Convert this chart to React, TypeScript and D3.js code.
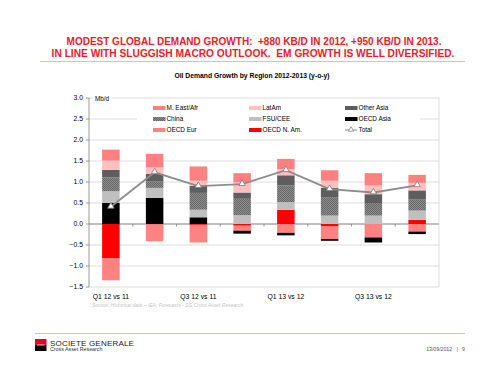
import React from "react";
import * as d3 from "d3";

const categories = ["Q1 12 vs 11", "Q2 12 vs 11", "Q3 12 vs 11", "Q4 12 vs 11", "Q1 13 vs 12", "Q2 13 vs 12", "Q3 13 vs 12", "Q4 13 vs 12"];
const tickLabels = ["Q1 12 vs 11", "", "Q3 12 vs 11", "", "Q1 13 vs 12", "", "Q3 13 vs 12", ""];
const yTicks = [3.0, 2.5, 2.0, 1.5, 1.0, 0.5, 0.0, -0.5, -1.0, -1.5];

const oecdNAm = [-0.82, -0.01, -0.02, -0.04, 0.34, -0.06, 0.0, 0.10];
const oecdEur = [-0.52, -0.40, -0.42, -0.12, -0.21, -0.30, -0.32, -0.18];
const oecdAsia = [0.50, 0.62, 0.16, -0.07, -0.06, -0.04, -0.12, -0.06];
const fsuCee = [0.28, 0.24, 0.18, 0.21, 0.18, 0.20, 0.20, 0.22];
const china = [0.33, 0.15, 0.40, 0.39, 0.40, 0.44, 0.30, 0.26];
const otherAsia = [0.18, 0.18, 0.17, 0.15, 0.24, 0.22, 0.21, 0.22];
const latAm = [0.22, 0.16, 0.12, 0.24, 0.15, 0.17, 0.21, 0.18];
const meAfr = [0.26, 0.32, 0.34, 0.22, 0.24, 0.25, 0.29, 0.19];
const total = [0.41, 1.23, 0.90, 0.95, 1.28, 0.83, 0.75, 0.92];

const seriesKeys = ["OECD N. Am.", "OECD Eur", "OECD Asia", "FSU/CEE", "China", "Other Asia", "LatAm", "M. East/Afr"];
const seriesValues = [oecdNAm, oecdEur, oecdAsia, fsuCee, china, otherAsia, latAm, meAfr];
const seriesFill: Record<string, string> = {
  "OECD N. Am.": "#ff0000",
  "OECD Eur": "#ff8282",
  "OECD Asia": "#000000",
  "FSU/CEE": "#bfbfbf",
  "China": "url(#chinaPat)",
  "Other Asia": "#5e5e5e",
  "LatAm": "#ffc0c0",
  "M. East/Afr": "#ff8080",
};

const legendItems = [
  ["M. East/Afr", "LatAm", "Other Asia"],
  ["China", "FSU/CEE", "OECD Asia"],
  ["OECD Eur", "OECD N. Am.", "Total"],
];

const FONT = "'Liberation Sans', Arial, Helvetica, sans-serif";

export default function App() {
  const left = 89, right = 439, top = 98, bottom = 287;
  const x = d3.scaleBand<string>().domain(categories).range([left, right]).paddingInner(0.6).paddingOuter(0.3);
  const y = d3.scaleLinear().domain([-1.5, 3.0]).range([bottom, top]);

  const rows = categories.map((c, i) => {
    const r: any = { cat: c };
    seriesKeys.forEach((k, j) => (r[k] = seriesValues[j][i]));
    return r;
  });
  const stacked = d3.stack<any>().keys(seriesKeys).offset(d3.stackOffsetDiverging)(rows);

  const line = d3
    .line<number>()
    .x((_, i) => (x(categories[i]) as number) + x.bandwidth() / 2)
    .y((d) => y(d));

  const tri = d3.symbol().type(d3.symbolTriangle).size(18)() as string;
  const triSmall = d3.symbol().type(d3.symbolTriangle).size(12)() as string;

  const step = x.step();
  const boundaries = d3.range(1, categories.length).map((i) => (x(categories[i]) as number) - (step * x.paddingInner()) / 2);

  const legendCols = [153, 249, 345];
  const legendRows = [108, 119, 130];

  return (
    <svg width={500} height={386} style={{ position: "absolute", left: 0, top: 0, background: "#fff" }} fontFamily={FONT}>
      <defs>
        <pattern id="chinaPat" width={2} height={2} patternUnits="userSpaceOnUse">
          <rect width={2} height={2} fill="#8e8e8e" />
          <rect width={1} height={1} fill="#676767" />
          <rect x={1} y={1} width={1} height={1} fill="#676767" />
        </pattern>
      </defs>

      {/* Title */}
      <text x={254} y={44.5} textAnchor="middle" fill="#e8202a" fontWeight="bold" fontSize={10} style={{ whiteSpace: "pre" }}>
        {"MODEST GLOBAL DEMAND GROWTH:  +880 KB/D IN 2012, +950 KB/D IN 2013."}
      </text>
      <text x={253} y={56.5} textAnchor="middle" fill="#e8202a" fontWeight="bold" fontSize={10.2} style={{ whiteSpace: "pre" }}>
        {"IN LINE WITH SLUGGISH MACRO OUTLOOK.  EM GROWTH IS WELL DIVERSIFIED."}
      </text>
      <line x1={40} x2={465} y1={61.5} y2={61.5} stroke="#f4a0a4" strokeWidth={0.8} />

      <text x={252} y={78} textAnchor="middle" fontWeight="bold" fontSize={6.8} fill="#000">
        Oil Demand Growth by Region 2012-2013 (y-o-y)
      </text>

      {/* gridlines */}
      {yTicks.map((t) => (
        <line key={"g" + t} x1={left} x2={right} y1={y(t)} y2={y(t)} stroke={t === 0 ? "#808080" : "#d4d4d4"} strokeWidth={t === 0 ? 1 : 0.8} />
      ))}
      <line x1={right} x2={right} y1={top} y2={bottom} stroke="#d4d4d4" strokeWidth={0.8} />
      {/* y axis */}
      <line x1={left} x2={left} y1={top} y2={bottom} stroke="#808080" strokeWidth={0.8} />
      {yTicks.map((t) => (
        <g key={"t" + t}>
          <line x1={left - 3} x2={left} y1={y(t)} y2={y(t)} stroke="#808080" strokeWidth={0.8} />
          <text x={83} y={y(t) + 2.4} textAnchor="end" fontSize={6.8} fill="#000">
            {d3.format(".1f")(t)}
          </text>
        </g>
      ))}
      <rect x={92} y={95} width={20} height={7} fill="#fff" />
      <text x={95} y={101.3} fontSize={6.3} fill="#000">Mb/d</text>

      {/* x ticks on zero line */}
      {boundaries.map((b, i) => (
        <line key={"xb" + i} x1={b} x2={b} y1={y(0)} y2={y(0) + 2.5} stroke="#808080" strokeWidth={0.8} />
      ))}

      {/* bars */}
      {stacked.map((s) => (
        <g key={s.key} fill={seriesFill[s.key]}>
          {s.map((d, i) => {
            const y0 = y(Math.max(d[0], d[1]));
            const y1 = y(Math.min(d[0], d[1]));
            return <rect key={i} x={x(categories[i])} y={y0} width={x.bandwidth()} height={Math.max(0, y1 - y0)} />;
          })}
        </g>
      ))}

      {/* total line */}
      <path d={line(total) as string} fill="none" stroke="#8c8c8c" strokeWidth={1.8} />
      {total.map((v, i) => (
        <path key={"m" + i} d={tri} transform={`translate(${(x(categories[i]) as number) + x.bandwidth() / 2},${y(v) - 0.5})`} fill="#fff" stroke="#7a7a7a" strokeWidth={0.8} />
      ))}

      {/* legend */}
      <rect x={137} y={103} width={283} height={33} fill="#fff" />
      {legendItems.map((row, ri) =>
        row.map((name, ci) => {
          const lx = legendCols[ci];
          const ly = legendRows[ri];
          return (
            <g key={name}>
              {name === "Total" ? (
                <g>
                  <line x1={lx} x2={lx + 12} y1={ly} y2={ly} stroke="#8c8c8c" strokeWidth={1} />
                  <path d={triSmall} transform={`translate(${lx + 6},${ly - 0.3})`} fill="#fff" stroke="#7a7a7a" strokeWidth={0.7} />
                </g>
              ) : (
                <rect x={lx} y={ly - 2} width={12.5} height={4} fill={seriesFill[name]} />
              )}
              <text x={lx + 13.5} y={ly + 2.3} fontSize={6.4} fill="#000">{name}</text>
            </g>
          );
        })
      )}

      {/* x labels */}
      {categories.map((c, i) => (
        <text key={"xl" + i} x={(x(c) as number) + x.bandwidth() / 2} y={299} textAnchor="middle" fontSize={6.8} fill="#000">
          {tickLabels[i]}
        </text>
      ))}

      <text x={92} y={306.5} fontSize={5} fill="#c4c4c4" fontStyle="italic">
        Source: Historical data – IEA; Forecasts - SG Cross Asset Research
      </text>

      {/* footer */}
      <line x1={35} x2={465} y1={333.5} y2={333.5} stroke="#f4a0a4" strokeWidth={0.8} />
      <rect x={35} y={339} width={11.5} height={6} fill="#e60028" />
      <rect x={35} y={345} width={11.5} height={6} fill="#000" />
      <rect x={37} y={344.6} width={7.5} height={0.8} fill="#fff" />
      <text x={50} y={345.5} fontSize={8} fill="#222" letterSpacing={0.2}>SOCIETE GENERALE</text>
      <text x={50} y={351.3} fontSize={5.3} fill="#333">Cross Asset Research</text>
      <text x={465} y={351.3} textAnchor="end" fontSize={5.2} fill="#555" style={{ whiteSpace: "pre" }}>{"13/09/2012   |   9"}</text>
    </svg>
  );
}
